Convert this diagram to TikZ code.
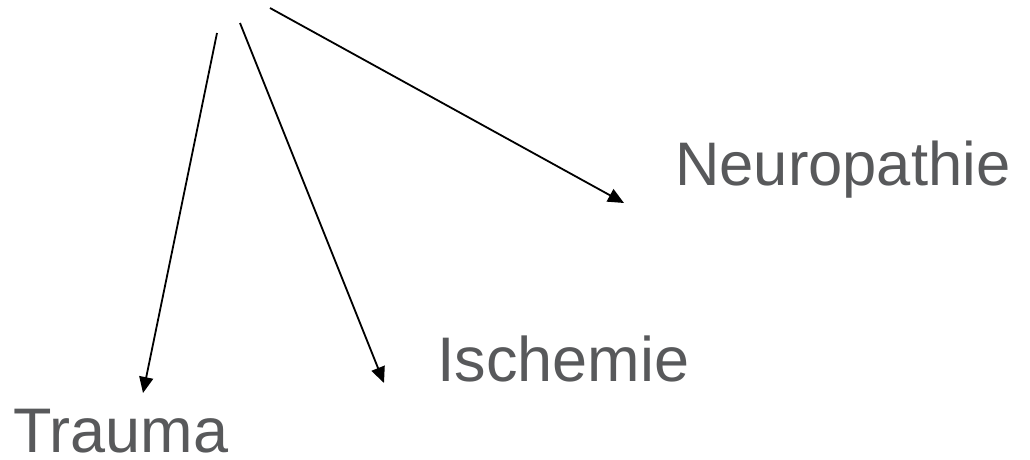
\documentclass[tikz,border=0pt]{standalone}
\usepackage{fontspec}
\setmainfont{Liberation Sans}
\usetikzlibrary{arrows.meta}
\definecolor{labelgray}{HTML}{58595B}
\tikzset{
  label text/.style={anchor=base west, inner sep=0pt, text=labelgray,
    font=\fontsize{63}{75}\selectfont},
  branch/.style={draw=black, line width=1.8pt,
    -{Triangle[length=16pt,width=14pt]}},
}
\begin{document}
\begin{tikzpicture}[x=1pt,y=-1pt]
  \useasboundingbox (0,0) rectangle (1030,459);
  % labels
  \node[label text, font=\fontsize{61.5}{74}\selectfont] (neuro) at (675,185) {Neuropathie};
  \node[label text] (isch) at (437,381) {Ischemie};
  \node[label text] (trauma) at (13.5,452) {Trauma};
  % arrow origins and tips
  \coordinate (s1) at (217,33);
  \coordinate (s2) at (240,23);
  \coordinate (s3) at (270,8);
  \coordinate (t1) at (143,393);
  \coordinate (t2) at (384,383);
  \coordinate (t3) at (624,203);
  \draw[branch] (s1) -- (t1);
  \draw[branch] (s2) -- (t2);
  \draw[branch] (s3) -- (t3);
\end{tikzpicture}
\end{document}
